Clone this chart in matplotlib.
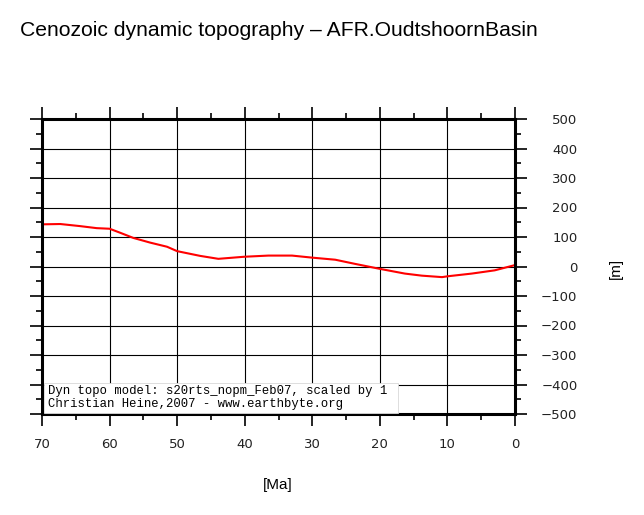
import matplotlib
matplotlib.use("Agg")
import matplotlib.pyplot as plt
from matplotlib.ticker import MultipleLocator
from matplotlib.patches import Rectangle

age_ma = [70.0, 69.8, 67.3, 64.4, 61.9, 60.0, 58.5, 56.5, 54.0, 51.5, 50.0, 46.6,
          43.9, 40.1, 36.5, 33.0, 30.0, 26.6, 23.7, 20.0, 16.3, 13.8, 10.8, 9.9,
          6.4, 3.0, 0.3, 0.0]
topo_m = [143, 143, 144, 137, 130, 128, 115, 97, 81, 67, 52, 36,
          26, 33, 37, 37, 30, 23, 9, -8, -24, -31, -36, -33,
          -24, -13, 3, 5]

title = "Cenozoic dynamic topography \u2013 AFR.OudtshoornBasin"
xlabel = "[Ma]"
ylabel = "[m]"
note_lines = ["Dyn topo model: s20rts_nopm_Feb07, scaled by 1",
              "Christian Heine,2007 - www.earthbyte.org"]

W, H = 644, 515
fig = plt.figure(figsize=(W / 100, H / 100), dpi=100)
ax = fig.add_axes([42 / W, (H - 414) / H, (515 - 42) / W, (414 - 119) / H])

ax.plot(age_ma, topo_m, color="red", lw=1.5, zorder=3)
ax.set_xlim(70, 0)
ax.set_ylim(-500, 500)

ax.xaxis.set_major_locator(MultipleLocator(10))
ax.xaxis.set_minor_locator(MultipleLocator(5))
ax.yaxis.set_major_locator(MultipleLocator(100))
ax.yaxis.set_minor_locator(MultipleLocator(50))
ax.grid(which="major", color="black", lw=0.8, zorder=1)

ax.tick_params(which="both", direction="out", top=True, bottom=True, left=True, right=True,
               labeltop=False, labelleft=False, labelbottom=True, labelright=True,
               width=1.2, color="black", labelsize=9.5, labelcolor="#222222")
ax.tick_params(which="major", length=8.5)
ax.tick_params(which="minor", length=4.5)
ax.tick_params(axis="x", which="major", pad=9)
ax.tick_params(axis="y", which="major", pad=36.5)
for s in ax.spines.values():
    s.set_linewidth(2.2)
    s.set_zorder(4)

for lab in ax.get_xticklabels() + ax.get_yticklabels():
    lab.set_family("DejaVu Sans")
for lab in ax.get_yticklabels():
    lab.set_horizontalalignment("right")

fig.text(20 / W, 1 - 30 / H, title, fontsize=15.2, family="Liberation Sans",
         ha="left", va="center")
fig.text(278 / W, 1 - 485 / H, xlabel, fontsize=11, family="Liberation Sans",
         ha="center", va="center")
fig.text(616 / W, 1 - 268 / H, ylabel, fontsize=11, family="Liberation Sans",
         ha="center", va="center", rotation=90)

ax.add_patch(Rectangle((0.004, 0.003), 0.748, 0.102, transform=ax.transAxes,
                       facecolor="white", edgecolor="#d8d8d8", lw=0.6, zorder=4.5))
ax.text(0.0127, 0.079, note_lines[0], transform=ax.transAxes,
        family="Liberation Mono", fontsize=8.8, ha="left", va="center", zorder=5)
ax.text(0.0127, 0.033, note_lines[1], transform=ax.transAxes,
        family="Liberation Mono", fontsize=8.8, ha="left", va="center", zorder=5)

fig.savefig("out.png", dpi=100)
